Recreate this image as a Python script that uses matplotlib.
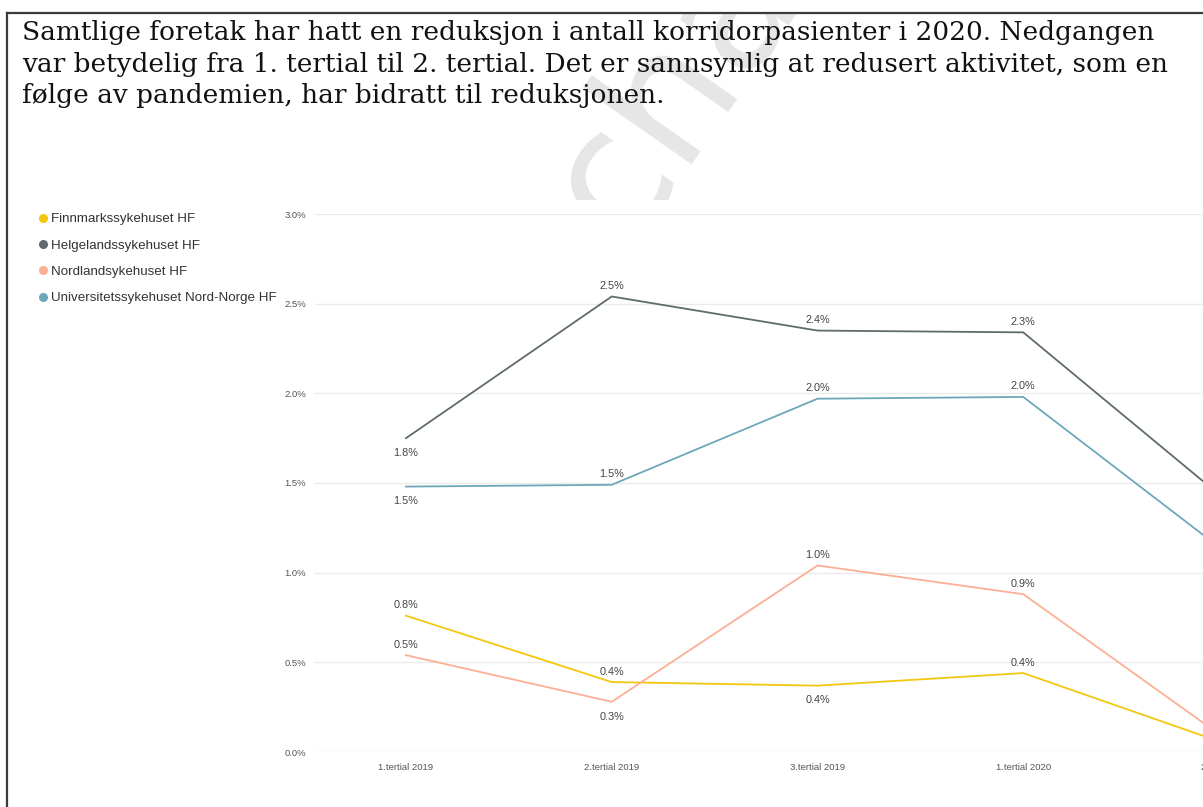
import matplotlib
matplotlib.use("Agg")
import matplotlib.pyplot as plt
from matplotlib.lines import Line2D
from matplotlib.patches import Rectangle

# --- data ---
periods = ["1.tertial 2019", "2.tertial 2019", "3.tertial 2019", "1.tertial 2020", "2.tertial 2020"]
finnmark = [0.76, 0.39, 0.37, 0.44, 0.04]
helgeland = [1.75, 2.54, 2.35, 2.34, 1.39]
nordland = [0.54, 0.28, 1.04, 0.88, 0.06]
unn = [1.48, 1.49, 1.97, 1.98, 1.10]
names = ["Finnmarkssykehuset HF", "Helgelandssykehuset HF",
         "Nordlandsykehuset HF", "Universitetssykehuset Nord-Norge HF"]
# data label placement: "a" above, "b" below, None = point falls outside the crop
label_pos = {
    "Finnmarkssykehuset HF": ["a", "a", "b", "a", None],
    "Helgelandssykehuset HF": ["b", "a", "a", "a", None],
    "Nordlandsykehuset HF": ["a", "b", "a", "a", None],
    "Universitetssykehuset Nord-Norge HF": ["b", "a", "a", "a", None],
}
yticks = [0.0, 0.5, 1.0, 1.5, 2.0, 2.5, 3.0]

title = ("Samtlige foretak har hatt en reduksjon i antall korridorpasienter i 2020. Nedgangen\n"
         "var betydelig fra 1. tertial til 2. tertial. Det er sannsynlig at redusert aktivitet, som en\n"
         "følge av pandemien, har bidratt til reduksjonen.")

colors = ["#f2c80f", "#5f6b6d", "#fcaf95", "#6ea7ba"]

W, H = 1203, 807
fig = plt.figure(figsize=(W / 100, H / 100), dpi=100)
fig.patch.set_facecolor("white")

# page frame (left + top rule)
fig.add_artist(Line2D([7, 7], [0, H - 13], transform=None, color="#3a3a3a", lw=1.6))
fig.add_artist(Line2D([7, W], [H - 13, H - 13], transform=None, color="#3a3a3a", lw=1.6))

# watermark behind the text, clipped to the page box
page = Rectangle((8, 0), W, H - 14, transform=None, facecolor="none", edgecolor="none")
fig.add_artist(page)
wm = fig.text(688, H - 72, "chal", transform=None, fontsize=125, color="#e6e6e6",
              family="DejaVu Sans", rotation=55, ha="center", va="center", zorder=0)
wm.set_clip_path(page)

fig.text(22, H - 20, title, transform=None, fontsize=19.0, family="DejaVu Serif",
         color="#111111", ha="left", va="top", linespacing=1.33, zorder=3)

# white chart panel covering the watermark
fig.add_artist(Rectangle((22, H - 778), W, 578, transform=None, facecolor="white",
                         edgecolor="none", zorder=1))

# axes: 0.0% at y=752, 3.0% at y=214, left edge x=315, categories spaced 205.75 px
x0, step = 406, 205.75
left_px = 315
right_lim = 4.5
right_px = x0 + right_lim * step
ax = fig.add_axes([left_px / W, (H - 752) / H, (right_px - left_px) / W, 538 / H], zorder=2)
ax.set_facecolor("none")
xs = list(range(len(periods)))
ax.set_xlim(-(x0 - left_px) / step, right_lim)
ax.set_ylim(0, 3.0)

for s in ax.spines.values():
    s.set_visible(False)
ax.set_yticks(yticks)
ax.set_yticklabels([f"{v:.1f}%" for v in yticks])
ax.set_xticks(xs)
ax.set_xticklabels(periods)
ax.tick_params(axis="both", length=0, labelsize=6.8, labelcolor="#555555")
ax.tick_params(axis="y", pad=6.5)
ax.tick_params(axis="x", pad=8)
ax.grid(axis="y", color="#ebebeb", lw=1.0)
ax.set_axisbelow(True)

series = [finnmark, helgeland, nordland, unn]
for name, vals, c in zip(names, series, colors):
    ax.plot(xs, vals, color=c, lw=1.3, solid_joinstyle="miter", zorder=3)
    for x, v, pos in zip(xs, vals, label_pos[name]):
        if pos == "b":
            ax.annotate(f"{v:.1f}%", (x, v), xytext=(0, -7), textcoords="offset points",
                        ha="center", va="top", fontsize=7.8, color="#444444")
        elif pos == "a":
            ax.annotate(f"{v:.1f}%", (x, v), xytext=(0, 4), textcoords="offset points",
                        ha="center", va="bottom", fontsize=7.8, color="#444444")

handles = [Line2D([], [], marker="o", ls="none", color=c, markersize=5.5) for c in colors]
fig.legend(handles, names, loc="upper left", bbox_to_anchor=(39 / W, (H - 213) / H),
           frameon=False, fontsize=9.6, labelcolor="#333333", handlelength=0.6,
           handletextpad=0.3, labelspacing=1.05, borderaxespad=0, borderpad=0)

for t in fig.legends[0].get_texts():
    t.set_family("Liberation Sans")
for t in ax.get_xticklabels() + ax.get_yticklabels():
    t.set_family("Liberation Sans")
for t in ax.texts:
    t.set_family("Liberation Sans")

fig.savefig("out.png", dpi=100, facecolor="white")
